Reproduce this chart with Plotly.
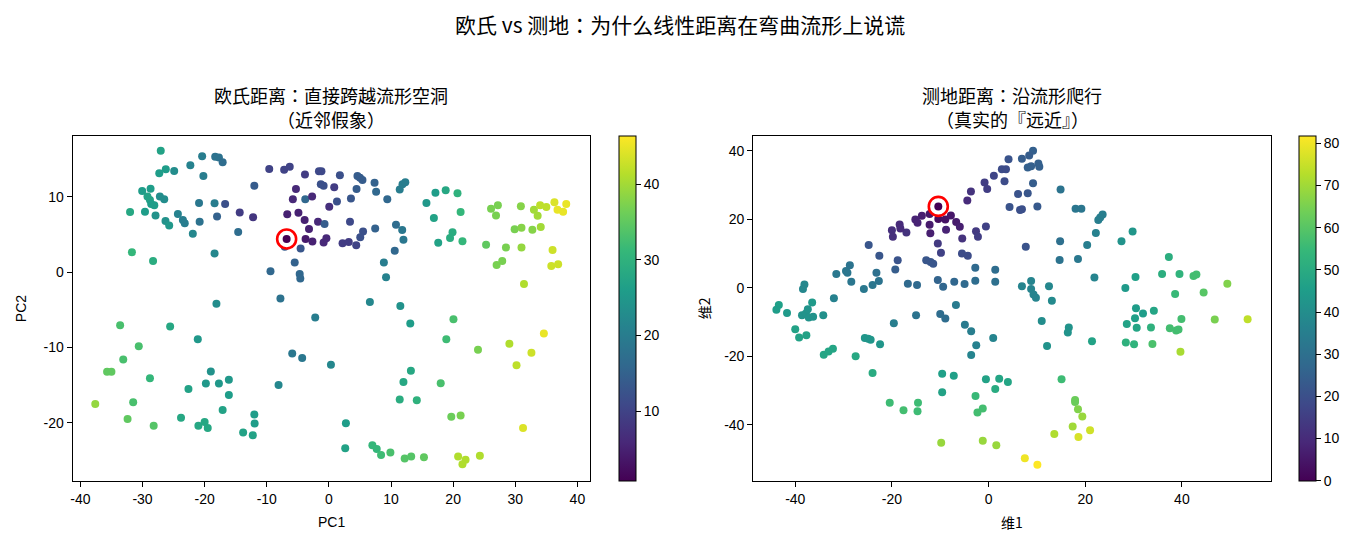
import plotly.graph_objects as go

W, H = 1358, 544

# ---------------- Left panel: PCA coords, Euclidean distance colour ----------------
left_x = [-27.06,-20.4,-18.3,-17.7,-17.1,-26.25,-27.3,-24.9,-22.3,-20.2,-9.6,-7.2,-6.3,-3.85,-1.6,-1.2,-12.0,-1.3,-0.85,-5.3,
          -5.8,-3.8,-2.7,-30.05,-28.7,-29.2,-28.8,-28.6,-28.1,-27.2,-26.5,-32.0,-29.6,-27.9,-26.3,-25.7,-24.3,-23.5,-23.2,-21.9,
          -20.9,-20.8,-18.4,-18.0,-16.7,-14.35,-12.2,-14.6,-6.7,-4.9,-3.9,-3.2,-1.75,-0.7,-3.75,-2.65,-0.85,-0.4,-7.1,-4.55,
          -5.5,-4.7,-4.6,-9.4,-7.8,-31.7,-28.3,-18.4,-18.1,
          1.77,0.86,0.06,4.6,5.0,5.4,4.45,7.35,7.6,3.55,1.3,9.4,11.4,11.85,12.3,3.4,5.5,5.05,2.2,3.2,
          4.4,7.45,10.8,11.8,12.0,10.6,8.85,9.2,6.6,11.5,15.7,17.15,18.8,20.7,21.2,16.9,19.9,19.5,21.5,17.6,
          26.1,27.2,26.9,30.9,33.0,34.0,35.0,33.6,36.3,36.8,37.7,38.2,29.9,31.0,32.75,34.1,25.3,28.5,31.0,36.0,
          27.0,27.9,35.8,36.9,31.4,
          -33.6,-25.55,-21.1,-2.2,-30.6,-33.1,-35.7,-35.0,-28.8,-37.6,-31.5,-32.4,-28.2,-23.8,-22.6,-19.8,-17.7,-19.0,-16.1,-16.1,
          -17.1,-21.0,-20.0,-19.5,-13.8,-12.25,-12.0,-11.95,-8.1,-5.9,-4.3,0.33,
          13.1,20.05,18.9,24.0,29.05,34.6,32.6,30.2,13.2,12.0,18.0,11.4,14.15,19.7,21.2,31.25,2.74,2.63,7.0,7.7,
          8.4,9.9,12.2,13.25,15.3,20.8,22.0,21.5,24.3]
left_y = [16.15,15.4,15.35,15.26,14.6,13.67,13.14,13.45,14.2,12.8,13.7,13.6,14.0,13.0,13.4,13.4,11.5,11.7,11.5,11.05,
          9.7,9.7,10.05,10.8,11.1,10.05,9.6,9.06,8.9,10.05,9.7,8.0,8.05,7.55,6.8,6.2,7.75,6.95,6.5,5.1,
          9.2,6.7,9.15,7.4,9.06,7.95,7.3,5.35,7.7,7.9,6.95,5.75,6.7,6.4,4.42,4.07,3.94,4.5,3.4,3.15,
          1.28,-0.23,-0.85,0.13,-3.5,2.65,1.5,2.5,-4.2,
          12.9,11.3,8.7,12.8,12.55,12.25,11.05,11.9,10.7,9.8,9.4,9.7,11.0,11.7,11.95,6.7,5.4,4.65,3.85,4.0,
          3.6,5.8,6.3,5.6,4.3,2.85,1.28,-0.66,-3.95,-4.5,9.2,10.55,10.9,10.5,8.0,7.2,5.3,4.55,4.1,3.9,
          8.45,8.9,7.55,8.75,8.3,8.9,8.65,7.5,9.3,8.3,8.05,9.05,5.7,5.9,5.65,6.0,3.65,3.3,3.3,2.95,
          0.97,1.5,0.84,1.05,-1.56,
          -7.04,-7.22,-8.9,-6.0,-9.83,-11.6,-13.24,-13.24,-14.08,-17.5,-17.27,-19.5,-20.4,-19.35,-15.5,-14.8,-14.8,-13.2,-14.3,-16.3,
          -18.3,-20.4,-19.9,-20.7,-21.3,-21.65,-18.9,-20.1,-14.97,-10.8,-11.4,-12.3,
          -6.82,-6.25,-8.9,-10.3,-9.52,-8.15,-10.7,-12.35,-13.1,-14.6,-14.75,-16.9,-17.0,-19.2,-19.04,-20.7,-20.06,-23.4,-23.0,-23.5,
          -24.3,-23.95,-24.75,-24.5,-24.6,-24.5,-24.9,-25.5,-24.4]
left_c = [27,20,18,18,17,26,26,23,21,20,10,10,10,9,11,11,14,12,12,6,
          6,16,6,26,26,27,27,26,26,23,23,28,26,24,24,25,21,20,20,22,
          19,18,20,15,12,9,8,17,5,5,5,5,6,14,4,5,6,6,14,13,
          15,16,16,16,18,31,29,22,23,
          12,9,7,14,14,14,14,15,16,13,12,16,20,20,20,11,12,12,9,9,
          10,15,17,19,19,16,20,21,22,24,25,26,28,30,31,27,29,29,31,27,
          37,37,37,38,40,42,42,40,44,45,45,45,37,38,38,40,35,37,39,43,
          37,37,43,43,41,
          33,28,25,20,33,33,35,35,31,39,33,35,34,28,27,25,25,24,25,26,
          27,28,28,28,27,27,26,26,22,19,19,22,
          26,33,32,37,41,45,43,42,28,28,33,29,30,36,37,44,26,27,31,31,
          32,33,34,34,35,41,41,41,41]
left_ref_x, left_ref_y = [-6.8], [4.42]

# ---------------- Right panel: manifold coords, geodesic distance colour ----------------
right_x = [4.13,2.75,3.6,1.1,-0.83,-0.28,3.3,-3.65,-4.4,4.34,-15.15,-13.8,-14.7,-12.2,-12.2,-10.4,-8.95,-7.8,-6.7,-5.95,
           -18.4,-20.0,-19.8,-17.0,-18.25,-12.05,-8.8,-5.45,-2.6,-2.2,-0.55,-24.8,-22.6,-10.5,-9.85,-18.8,-19.3,-12.9,-12.0,-11.45,
           -5.5,-4.3,-2.75,1.38,1.38,-2.75,-4.96,-7.1,-10.5,-9.4,-14.8,-16.7,-23.2,-22.7,-24.0,-25.8,-28.4,-29.2,-29.5,-28.7,
           -31.5,-38.1,-38.4,-32.0,-36.5,-43.4,-6.75,
           -43.9,-41.7,-38.6,-37.8,-37.2,-36.3,-37.4,-34.2,-40.0,-39.2,-37.7,-34.1,-33.1,-32.2,-27.5,-25.6,-24.9,-24.4,-22.45,-24.0,
           -19.6,-15.0,-10.0,-8.95,-4.9,-3.6,-2.55,-3.6,0.96,-9.6,-7.2,-9.6,-20.45,-17.6,-14.6,-14.7,-0.55,2.2,4.0,1.38,
           -2.7,-2.3,-1.2,-9.8,-1.2,1.6,
           9.2,8.4,6.9,8.1,8.8,10.3,10.5,9.2,6.1,8.1,14.9,6.5,6.9,10.1,18.0,19.2,22.7,23.1,23.6,22.2,
           14.8,20.4,7.7,14.7,18.5,27.5,29.8,21.9,37.3,35.9,39.5,42.4,43.0,49.4,38.6,44.5,28.3,30.4,8.8,6.9,
           8.8,9.3,9.8,12.5,13.1,
           30.5,31.95,34.2,30.3,28.6,30.65,33.6,39.9,37.5,38.8,39.3,46.8,53.6,28.4,30.1,33.9,39.7,11.0,16.6,16.4,
           21.4,12.1,15.1,17.9,17.9,18.5,19.4,17.4,21.0,18.6,13.6,7.5,10.1]
right_y = [37.5,34.6,34.6,32.7,30.75,28.8,31.1,28.1,25.5,23.6,19.95,21.0,19.0,21.5,18.4,20.05,19.95,21.1,19.2,17.8,
           18.5,16.8,14.9,16.15,17.3,15.9,16.9,14.4,16.5,14.9,17.9,12.45,9.35,12.95,10.2,8.0,5.35,8.0,7.5,7.0,
           10.0,9.35,5.85,5.25,1.75,2.05,1.08,1.75,2.24,0.3,0.79,1.17,4.4,1.95,0.78,-0.38,1.75,4.4,4.87,6.6,
           4.0,0.97,-0.38,-3.1,-4.3,-5.06,-5.06,
           -6.4,-7.4,-8.0,-7.5,-8.7,-8.5,-6.3,-8.0,-12.1,-14.5,-13.9,-19.55,-18.6,-17.8,-20.0,-14.7,-14.9,-15.2,-16.5,-24.9,
           -10.4,-8.0,-7.7,-9.0,-10.8,-12.7,-16.8,-19.65,-14.7,-25.1,-25.7,-30.55,-33.6,-35.8,-33.6,-36.1,-26.75,-26.56,-27.5,-29.6,
           -31.6,-36.4,-35.3,-45.3,-44.7,-46.0,
           40.0,38.6,37.7,35.1,35.5,36.3,35.3,30.5,27.4,27.6,28.7,22.7,22.9,23.75,23.1,23.1,19.75,20.5,21.4,16.0,
           13.6,12.45,12.0,8.1,8.4,13.6,16.45,3.0,9.0,4.0,4.0,3.4,3.9,1.17,-1.85,-1.36,-0.1,3.1,1.95,0.4,
           -0.37,-2.0,-2.9,0.4,-3.8,
           -6.0,-7.5,-6.7,-8.9,-10.6,-11.7,-11.6,-9.1,-11.8,-12.5,-12.2,-9.3,-9.2,-16.0,-16.5,-16.4,-18.7,-9.7,-11.6,-13.1,
           -15.6,-17.0,-26.7,-32.8,-33.4,-35.5,-37.6,-40.5,-41.6,-43.6,-42.7,-49.8,-51.7]
right_c = [21,19,19,17,15,15,19,12,10,21,8,7,8,5,6,3,4,5,6,7,
           10,11,11,12,10,7,8,12,14,15,16,22,22,14,16,21,24,22,22,22,
           19,19,28,29,30,29,28,27,26,27,28,28,30,31,32,33,32,32,32,31,
           33,38,38,36,44,46,34,
           45,44,42,42,42,42,42,41,47,47,47,48,48,48,49,43,43,43,43,50,
           35,31,29,29,34,35,36,37,37,46,46,47,56,57,56,56,47,48,48,50,
           55,57,57,69,69,69,
           25,24,24,25,25,25,25,24,21,22,31,20,20,23,32,32,35,35,35,36,
           30,35,21,31,33,42,43,37,51,51,53,57,57,66,55,60,44,46,37,37,
           37,37,37,38,39,
           45,45,48,46,47,48,52,57,57,57,57,65,74,52,53,58,71,40,42,42,
           47,42,56,63,63,66,69,70,76,77,72,80,82]
right_ref_x, right_ref_y = [-10.4], [23.75]

# ---------------- Text ----------------
suptitle = "欧氏 vs 测地：为什么线性距离在弯曲流形上说谎"
left_title = ["欧氏距离：直接跨越流形空洞", "（近邻假象）"]
right_title = ["测地距离：沿流形爬行", "（真实的『远近』）"]
left_xlabel, left_ylabel = "PC1", "PC2"
right_xlabel, right_ylabel = "维1", "维2"
left_xticks = [-40, -30, -20, -10, 0, 10, 20, 30, 40]
left_yticks = [-20, -10, 0, 10]
right_xticks = [-40, -20, 0, 20, 40]
right_yticks = [-40, -20, 0, 20, 40]
left_cbticks = [10, 20, 30, 40]
right_cbticks = [0, 10, 20, 30, 40, 50, 60, 70, 80]

FONT = "Liberation Sans, Noto Sans CJK JP, sans-serif"
CJK = "Noto Sans CJK JP, Liberation Sans, sans-serif"

# pixel geometry
ax_top, ax_bot = 135.7, 480.7
L0, L1 = 70.7, 588.7
R0, R1 = 752.3, 1270.7
def px(x): return x / W
def py(y): return (H - y) / H
def lbl(v): return [str(t) for t in v]   # hyphen-minus like the reference

fig = go.Figure()

def add_panel(xs, ys, cs, rx, ry, cmin, cmax, xa, ya, cbx, tickvals):
    fig.add_trace(go.Scatter(
        x=xs, y=ys, mode="markers", xaxis=xa, yaxis=ya, showlegend=False,
        marker=dict(size=8, color=cs, colorscale="Viridis", cmin=cmin, cmax=cmax,
                    line=dict(width=0),
                    showscale=True,
                    colorbar=dict(x=cbx, xanchor="left", y=py((ax_top + ax_bot) / 2), yanchor="middle",
                                  len=ax_bot - ax_top, lenmode="pixels", thickness=17,
                                  thicknessmode="pixels", xpad=0, ypad=0,
                                  outlinewidth=1, outlinecolor="black",
                                  ticks="outside", ticklen=5, tickcolor="black",
                                  tickvals=tickvals, ticktext=lbl(tickvals),
                                  tickfont=dict(size=14, color="black", family=FONT))),
        hoverinfo="skip"))
    fig.add_trace(go.Scatter(
        x=rx, y=ry, mode="markers", xaxis=xa, yaxis=ya, showlegend=False,
        marker=dict(size=19, color="white", symbol="circle",
                    line=dict(width=2.6, color="red")), hoverinfo="skip"))
    fig.add_trace(go.Scatter(
        x=rx, y=ry, mode="markers", xaxis=xa, yaxis=ya, showlegend=False,
        marker=dict(size=8, color=[cmin], colorscale="Viridis", cmin=cmin, cmax=cmax,
                    showscale=False), hoverinfo="skip"))

add_panel(left_x, left_y, left_c, left_ref_x, left_ref_y, 0.8, 46.4, "x", "y",
          px(618.3), left_cbticks)
add_panel(right_x, right_y, right_c, right_ref_x, right_ref_y, 0, 81.8, "x2", "y2",
          px(1299.3), right_cbticks)

axis_common = dict(showgrid=False, zeroline=False, showline=True, linecolor="black", linewidth=1,
                   mirror=True, ticks="outside", ticklen=5, tickcolor="black",
                   tickfont=dict(size=14, color="black", family=FONT))

fig.update_layout(
    width=W, height=H, margin=dict(l=0, r=0, t=0, b=0),
    paper_bgcolor="white", plot_bgcolor="white",
    font=dict(family=FONT, color="black"),
    xaxis=dict(domain=[px(L0), px(L1)], range=[-41.25, 42.0], tickvals=left_xticks, ticktext=lbl(left_xticks),
               anchor="y", **axis_common),
    yaxis=dict(domain=[py(ax_bot), py(ax_top)], range=[-27.7, 18.14], tickvals=left_yticks, ticktext=lbl(left_yticks),
               anchor="x", **axis_common),
    xaxis2=dict(domain=[px(R0), px(R1)], range=[-48.7, 58.4], tickvals=right_xticks, ticktext=lbl(right_xticks),
                anchor="y2", **axis_common),
    yaxis2=dict(domain=[py(ax_bot), py(ax_top)], range=[-56.35, 44.4], tickvals=right_yticks, ticktext=lbl(right_yticks),
                anchor="x2", **axis_common),
)

ann = []
def add_text(text, x, y, size, angle=0, family=CJK):
    ann.append(dict(text=text, x=px(x), y=py(y), xref="paper", yref="paper", showarrow=False,
                    xanchor="center", yanchor="middle", textangle=angle, borderpad=0,
                    font=dict(size=size, family=family, color="black")))

add_text(suptitle, W / 2, 24, 21)
add_text(left_title[0], (L0 + L1) / 2, 95, 18)
add_text(left_title[1], (L0 + L1) / 2, 119, 18)
add_text(right_title[0], (R0 + R1) / 2, 95, 18)
add_text(right_title[1], (R0 + R1) / 2, 119, 18)
add_text(left_xlabel, (L0 + L1) / 2, 522, 14, family=FONT)
add_text(right_xlabel, (R0 + R1) / 2, 522, 14)
add_text(left_ylabel, 19, (ax_top + ax_bot) / 2, 14, angle=-90, family=FONT)
add_text(right_ylabel, 703, (ax_top + ax_bot) / 2, 14, angle=-90)
fig.update_layout(annotations=ann)

fig.write_html("out.html")
